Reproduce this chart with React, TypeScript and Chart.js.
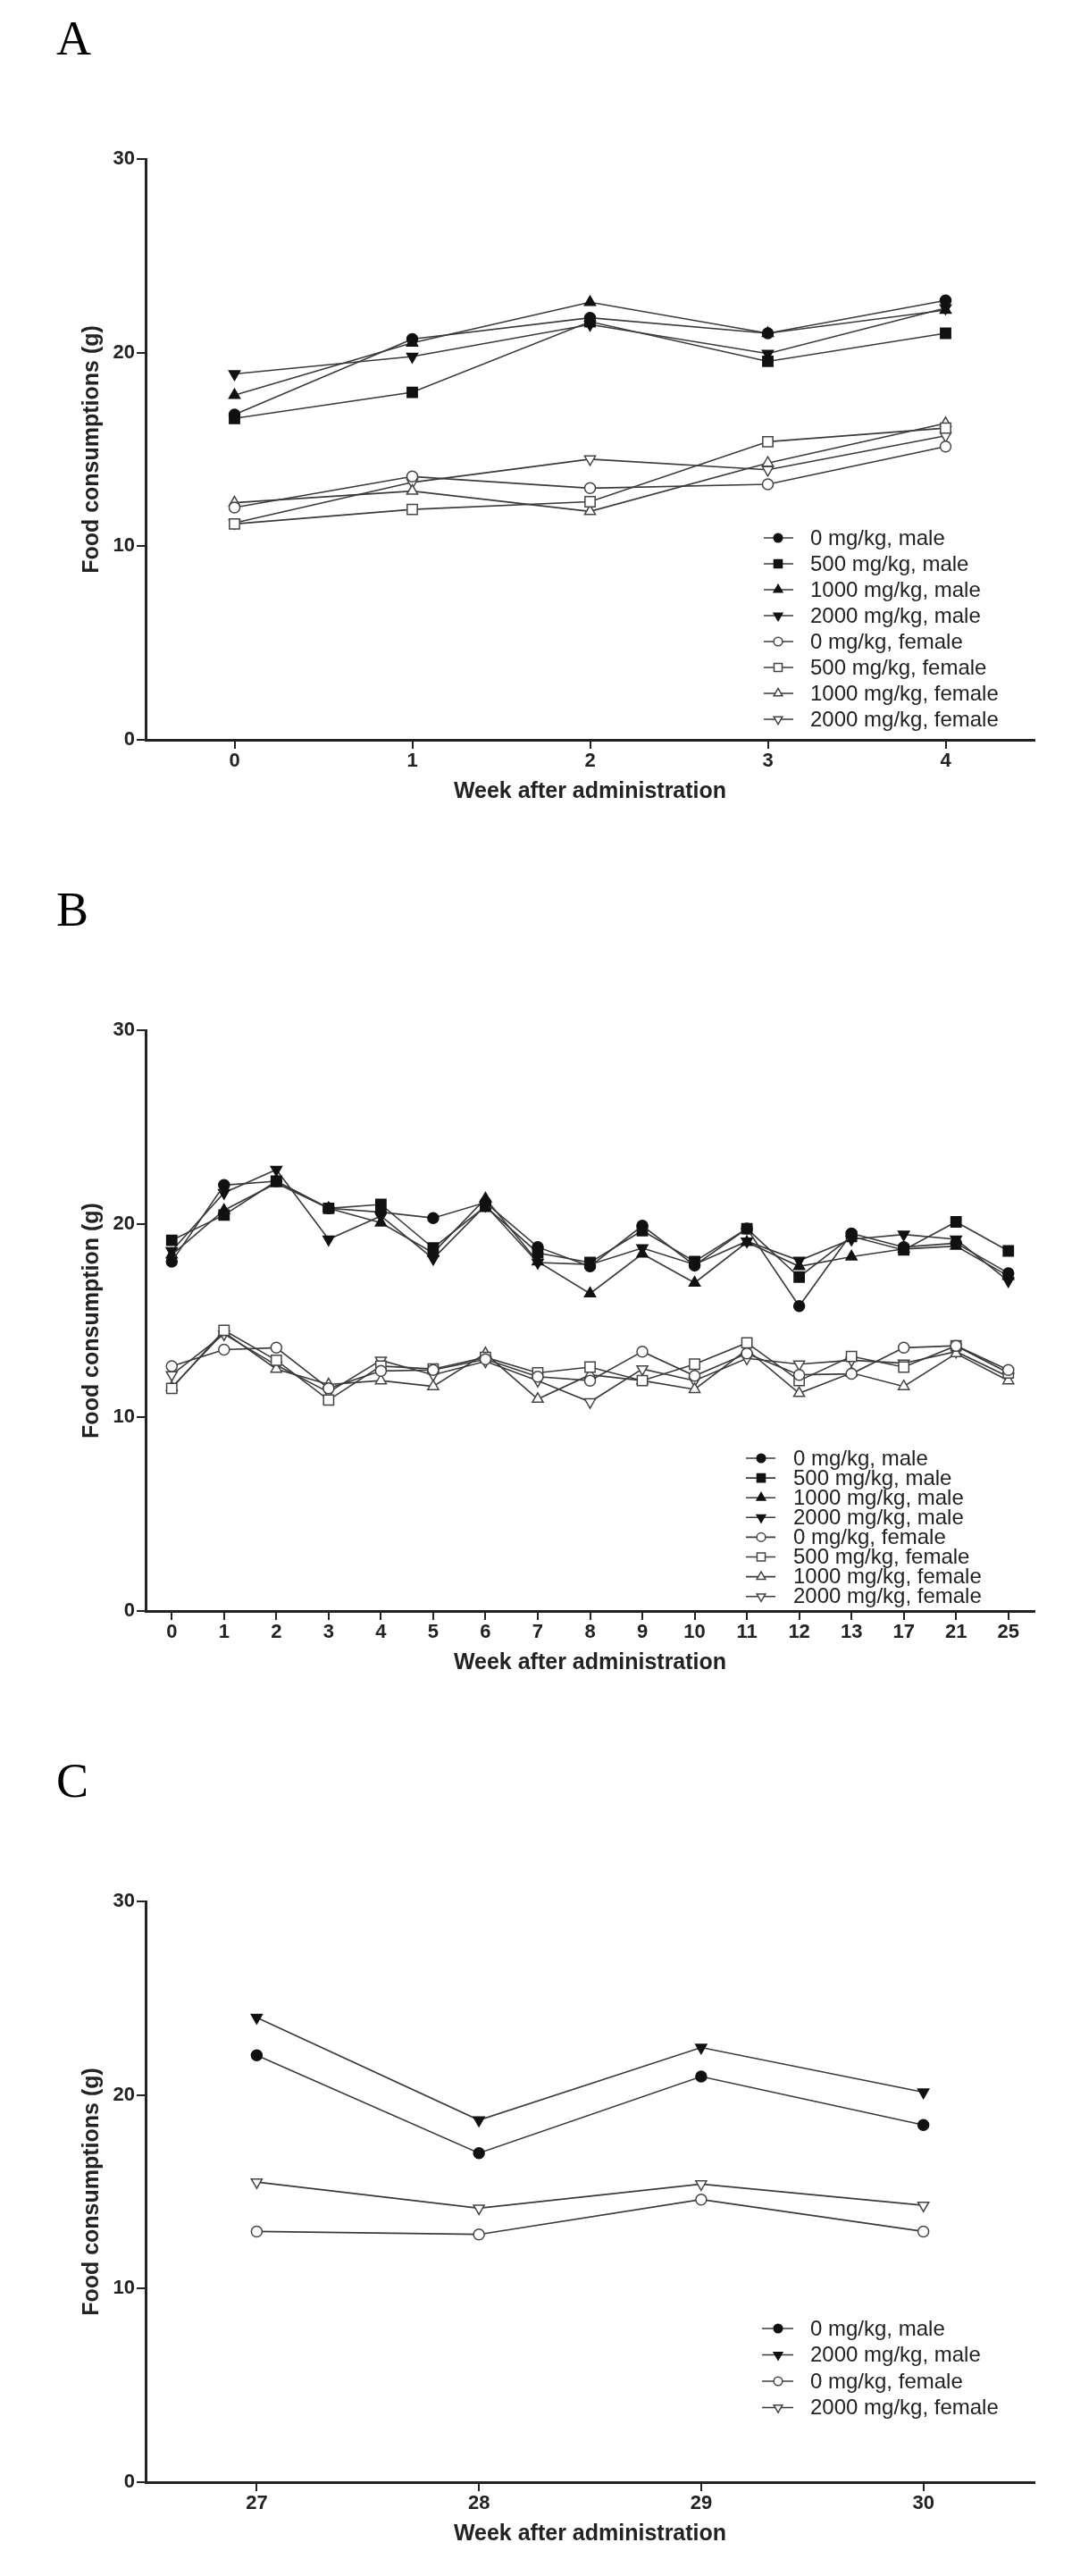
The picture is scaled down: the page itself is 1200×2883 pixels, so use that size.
import React, { useEffect, useRef } from 'react';
import { Chart, registerables } from 'chart.js';

Chart.register(...registerables);

// ---------------- DATA ----------------
const weeksA = ['0', '1', '2', '3', '4'];
const A_male0 = [16.8, 20.7, 21.8, 21.0, 22.7];
const A_male500 = [16.6, 17.95, 21.6, 19.55, 21.0];
const A_male1000 = [17.8, 20.5, 22.6, 21.0, 22.2];
const A_male2000 = [18.9, 19.8, 21.45, 19.95, 22.3];
const A_female0 = [12.0, 13.6, 13.0, 13.2, 15.15];
const A_female500 = [11.15, 11.9, 12.3, 15.4, 16.1];
const A_female1000 = [12.25, 12.85, 11.8, 14.3, 16.35];
const A_female2000 = [11.2, 13.3, 14.5, 13.95, 15.7];

const weeksB = ['0', '1', '2', '3', '4', '5', '6', '7', '8', '9', '10', '11', '12', '13', '17', '21', '25'];
const B_male0 = [18.05, 22.0, 22.2, 20.8, 20.6, 20.3, 21.1, 18.8, 17.8, 19.9, 17.85, 19.75, 15.75, 19.5, 18.8, 19.0, 17.45];
const B_male500 = [19.15, 20.45, 22.2, 20.8, 21.0, 18.75, 20.9, 18.5, 18.0, 19.65, 18.05, 19.75, 17.25, 19.35, 18.65, 20.1, 18.6];
const B_male1000 = [18.4, 20.7, 22.1, 20.8, 20.05, 18.5, 21.3, 18.05, 16.4, 18.45, 16.95, 19.05, 17.8, 18.3, 18.7, 18.85, 17.3];
const B_male2000 = [18.6, 21.6, 22.8, 19.2, 20.4, 18.2, 20.95, 18.0, 17.9, 18.75, 17.9, 19.1, 18.1, 19.2, 19.45, 19.2, 17.05];
const B_female0 = [12.65, 13.5, 13.6, 11.5, 12.4, 12.45, 13.0, 12.1, 11.9, 13.4, 12.15, 13.3, 12.2, 12.25, 13.6, 13.7, 12.45];
const B_female500 = [11.5, 14.5, 12.95, 10.9, 12.65, 12.5, 13.1, 12.3, 12.6, 11.9, 12.75, 13.85, 11.9, 13.15, 12.6, 13.7, 12.3];
const B_female1000 = [11.55, 14.4, 12.5, 11.7, 11.9, 11.6, 13.3, 10.95, 12.2, 11.9, 11.45, 13.5, 11.25, 12.3, 11.6, 13.3, 11.9];
const B_female2000 = [12.2, 14.3, 12.7, 11.3, 12.95, 12.2, 12.9, 11.9, 10.8, 12.5, 11.9, 13.05, 12.75, 12.95, 12.8, 13.4, 12.1];

const weeksC = ['27', '28', '29', '30'];
const C_male0 = [22.05, 17.0, 20.95, 18.45];
const C_male2000 = [24.0, 18.7, 22.45, 20.15];
const C_female0 = [12.95, 12.8, 14.6, 12.95];
const C_female2000 = [15.5, 14.15, 15.4, 14.3];

const yTicks = [0, 10, 20, 30];
const xTitle = 'Week after administration';

// ---------------- STYLE ----------------
const TICK_FONT = "'Liberation Sans Narrow', 'Arial Narrow', 'Liberation Sans', Arial, sans-serif";
const SANS = "'Liberation Sans', Arial, Helvetica, sans-serif";
const SERIF = "'Liberation Serif', 'Times New Roman', serif";
const AXIS = '#222';
const LINE = '#3a3a3a';

type MStyle = 'circle' | 'rect' | 'triangle' | 'down';
type Series = { label: string; data: number[]; style: MStyle; filled: boolean };

const radiusFor = (s: MStyle) => (s === 'circle' ? 6 : s === 'rect' ? 8 : 7);

function drawMarker(ctx: CanvasRenderingContext2D, style: MStyle, x: number, y: number, r: number, filled: boolean) {
  ctx.beginPath();
  if (style === 'circle') {
    ctx.arc(x, y, r, 0, Math.PI * 2);
  } else if (style === 'rect') {
    const s = r * Math.SQRT1_2;
    ctx.rect(x - s, y - s, 2 * s, 2 * s);
  } else {
    const d = style === 'down' ? -1 : 1;
    ctx.moveTo(x, y - d * r);
    ctx.lineTo(x + 0.866 * r, y + d * 0.5 * r);
    ctx.lineTo(x - 0.866 * r, y + d * 0.5 * r);
    ctx.closePath();
  }
  ctx.fillStyle = filled ? '#111' : '#fff';
  ctx.fill();
  ctx.lineWidth = 1.5;
  ctx.strokeStyle = filled ? '#111' : '#444';
  ctx.stroke();
}

type LegendPos = { lx1: number; lx2: number; mx: number; tx: number; y0: number; dy: number };

type PanelProps = {
  top: number;
  height: number;
  letter: string;
  labels: string[];
  series: Series[];
  yTitle: string;
  legend: LegendPos;
};

function Panel({ top, height, letter, labels, series, yTitle, legend }: PanelProps) {
  const ref = useRef<HTMLCanvasElement>(null);
  useEffect(() => {
    if (!ref.current) return;
    const decor = {
      id: 'decor' + letter,
      afterDraw(chart: any) {
        const ctx: CanvasRenderingContext2D = chart.ctx;
        ctx.save();
        ctx.fillStyle = '#000';
        ctx.font = `54px ${SERIF}`;
        ctx.textBaseline = 'alphabetic';
        ctx.textAlign = 'left';
        ctx.fillText(letter, 63, 61);
        series.forEach((s, i) => {
          const y = legend.y0 + i * legend.dy;
          ctx.beginPath();
          ctx.moveTo(legend.lx1, y);
          ctx.lineTo(legend.lx2, y);
          ctx.lineWidth = 1.6;
          ctx.strokeStyle = LINE;
          ctx.stroke();
          drawMarker(ctx, s.style, legend.mx, y, radiusFor(s.style) * 0.8, s.filled);
          ctx.fillStyle = '#222';
          ctx.font = `24px ${SANS}`;
          ctx.textBaseline = 'middle';
          ctx.fillText(s.label, legend.tx, y + 1);
        });
        ctx.restore();
      },
    };
    const chart = new Chart(ref.current, {
      type: 'line',
      data: {
        labels,
        datasets: series.map((s) => ({
          label: s.label,
          data: s.data,
          borderColor: LINE,
          borderWidth: 1.6,
          tension: 0,
          fill: false,
          pointStyle: s.style === 'down' ? 'triangle' : s.style,
          pointRotation: s.style === 'down' ? 180 : 0,
          pointRadius: radiusFor(s.style),
          pointBackgroundColor: s.filled ? '#111' : '#fff',
          pointBorderColor: s.filled ? '#111' : '#444',
          pointBorderWidth: 1.5,
        })),
      },
      options: {
        responsive: false,
        animation: false,
        layout: { padding: { left: 0, right: 42, top: 178, bottom: height - 828 - 100 } },
        plugins: { legend: { display: false }, tooltip: { enabled: false } },
        scales: {
          x: {
            type: 'category',
            offset: true,
            grid: { display: true, drawOnChartArea: false, drawTicks: true, tickLength: 10, offset: false, color: AXIS, lineWidth: 2 },
            border: { display: true, color: AXIS, width: 3 },
            ticks: { color: AXIS, font: { family: TICK_FONT, size: 22, weight: 'bold' }, padding: 1, maxRotation: 0, autoSkip: false },
            title: { display: true, text: xTitle, color: AXIS, font: { family: SANS, size: 25, weight: 'bold' }, padding: { top: 0, bottom: 27 } },
            afterFit: (s: any) => {
              s.height = 100;
            },
          },
          y: {
            type: 'linear',
            min: yTicks[0],
            max: yTicks[yTicks.length - 1],
            afterBuildTicks: (s: any) => {
              s.ticks = yTicks.map((v) => ({ value: v }));
            },
            grid: { display: true, drawOnChartArea: false, drawTicks: true, tickLength: 10, color: AXIS, lineWidth: 2 },
            border: { display: true, color: AXIS, width: 3 },
            ticks: { color: AXIS, font: { family: TICK_FONT, size: 22, weight: 'bold' }, padding: 2 },
            title: { display: true, text: yTitle, color: AXIS, font: { family: SANS, size: 25, weight: 'bold' }, padding: { top: 88, bottom: 0 } },
            afterFit: (s: any) => {
              s.width = 163;
            },
          },
        },
      } as any,
      plugins: [decor],
    });
    return () => chart.destroy();
  }, []);
  return (
    <canvas
      ref={ref}
      width={1200}
      height={height}
      style={{ position: 'absolute', left: 0, top, width: 1200, height, display: 'block' }}
    />
  );
}

const seriesA: Series[] = [
  { label: '0 mg/kg, male', data: A_male0, style: 'circle', filled: true },
  { label: '500 mg/kg, male', data: A_male500, style: 'rect', filled: true },
  { label: '1000 mg/kg, male', data: A_male1000, style: 'triangle', filled: true },
  { label: '2000 mg/kg, male', data: A_male2000, style: 'down', filled: true },
  { label: '0 mg/kg, female', data: A_female0, style: 'circle', filled: false },
  { label: '500 mg/kg, female', data: A_female500, style: 'rect', filled: false },
  { label: '1000 mg/kg, female', data: A_female1000, style: 'triangle', filled: false },
  { label: '2000 mg/kg, female', data: A_female2000, style: 'down', filled: false },
];

const seriesB: Series[] = [
  { label: '0 mg/kg, male', data: B_male0, style: 'circle', filled: true },
  { label: '500 mg/kg, male', data: B_male500, style: 'rect', filled: true },
  { label: '1000 mg/kg, male', data: B_male1000, style: 'triangle', filled: true },
  { label: '2000 mg/kg, male', data: B_male2000, style: 'down', filled: true },
  { label: '0 mg/kg, female', data: B_female0, style: 'circle', filled: false },
  { label: '500 mg/kg, female', data: B_female500, style: 'rect', filled: false },
  { label: '1000 mg/kg, female', data: B_female1000, style: 'triangle', filled: false },
  { label: '2000 mg/kg, female', data: B_female2000, style: 'down', filled: false },
];

const seriesC: Series[] = [
  { label: '0 mg/kg, male', data: C_male0, style: 'circle', filled: true },
  { label: '2000 mg/kg, male', data: C_male2000, style: 'down', filled: true },
  { label: '0 mg/kg, female', data: C_female0, style: 'circle', filled: false },
  { label: '2000 mg/kg, female', data: C_female2000, style: 'down', filled: false },
];

export default function App() {
  return (
    <div style={{ position: 'absolute', left: 0, top: 0, width: 1200, height: 2883, overflow: 'hidden', background: '#fff' }}>
      <Panel
        top={0}
        height={975}
        letter="A"
        labels={weeksA}
        series={seriesA}
        yTitle="Food consumptions (g)"
        legend={{ lx1: 855, lx2: 888, mx: 871, tx: 907, y0: 602, dy: 29 }}
      />
      <Panel
        top={975}
        height={975}
        letter="B"
        labels={weeksB}
        series={seriesB}
        yTitle="Food consumption (g)"
        legend={{ lx1: 835, lx2: 868, mx: 852, tx: 888, y0: 657, dy: 22.1 }}
      />
      <Panel
        top={1950}
        height={933}
        letter="C"
        labels={weeksC}
        series={seriesC}
        yTitle="Food consumptions (g)"
        legend={{ lx1: 853, lx2: 888, mx: 871, tx: 907, y0: 656, dy: 29.5 }}
      />
    </div>
  );
}
